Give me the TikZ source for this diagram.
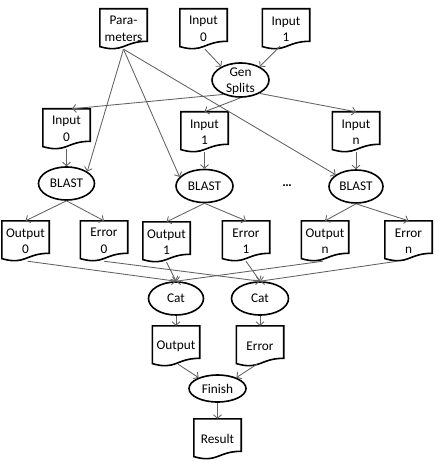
\documentclass[tikz,border=0pt]{standalone}
\usepackage{fontspec}
\setmainfont{Carlito}
\usetikzlibrary{shapes.geometric,arrows.meta}
\begin{document}
\begin{tikzpicture}[x=1pt,y=-1pt,
  lbl/.style={font=\fontsize{13.3}{16.5}\selectfont},
  doc/.style={rectangle, minimum width=47pt, minimum height=40pt, inner sep=0pt, align=center, lbl},
  proc/.style={ellipse, draw, line width=1.6pt, minimum width=56pt, minimum height=33pt, inner sep=0pt, lbl},
  conn/.style={draw=black!62, line width=0.85pt, -{Straight Barb[length=3.5pt,width=8pt]}},
  docline/.style={line width=1.6pt, line join=miter}]
\useasboundingbox (0,0) rectangle (437,462);
% documents
\node[doc] (par) at (123.5,29) {Para-\\meters};
\node[doc] (inA) at (203.5,29) {Input\\0};
\node[doc] (inB) at (286,29) {Input\\1};
\node[doc] (i0) at (66.5,129) {Input\\0};
\node[doc] (i1) at (204.5,132) {Input\\1};
\node[doc] (in) at (356,132) {Input\\n};
\node[doc] (o0) at (25.5,241) {Output\\0};
\node[doc] (e0) at (104,241) {Error\\0};
\node[doc] (o1) at (166.5,242) {Output\\1};
\node[doc] (e1) at (246,241) {Error\\1};
\node[doc] (on) at (325,241) {Output\\n};
\node[doc] (en) at (408.5,241) {Error\\n};
\node[doc] (out) at (176,346) {Output};
\node[doc] (err) at (260,346) {Error};
\node[doc] (res) at (217.5,439) {Result};
\foreach \n in {par,inA,inB,i0,i1,in,o0,e0,o1,e1,on,en,out,err,res}{
  \draw[docline] ([yshift=2.6pt]\n.south west) -- (\n.north west) -- (\n.north east)
    -- ([yshift=7.9pt]\n.south east) .. controls ([yshift=7.9pt]\n.south) and ([yshift=-4.3pt]\n.south) .. cycle;
}
% processes
\node[proc, minimum width=57pt, minimum height=34pt,
  label={[align=center, lbl, inner sep=0pt, yshift=-1.5pt]center:Gen\\Splits}] (gen) at (240.5,80) {};
\node[proc] (b0) at (66.5,183.5) {BLAST};
\node[proc, minimum width=57pt] (b1) at (204.5,186) {BLAST};
\node[proc, minimum width=54pt] (bn) at (356,186.5) {BLAST};
\node[lbl] (dots) at (287,186) {\textbf{\ldots}};
\node[proc, minimum width=55pt] (c0) at (176,298.5) {Cat};
\node[proc, minimum width=57pt] (c1) at (260,298.5) {Cat};
\node[proc, minimum width=57pt, minimum height=27pt] (fin) at (217.5,388.5) {Finish};
% connectors
\draw[conn] (par.south) -- (b0.30);
\draw[conn] (par.south) -- (b1.160);
\draw[conn] (par.south) -- (bn.150);
\draw[conn] ([xshift=1.5pt]inA.south) -- (gen.145);
\draw[conn] ([xshift=-6pt,yshift=3pt]inB.south) -- (gen.35);
\draw[conn] (gen.-140) -- ([xshift=5.5pt]i0.north);
\draw[conn] (gen.south) -- (i1.north);
\draw[conn] (gen.-35) -- (in.north);
\draw[conn] (i0.south) -- (b0.north);
\draw[conn] (i1.south) -- (b1.north);
\draw[conn] (in.south) -- (bn.north);
\draw[conn] (b0.south) -- (o0.north);
\draw[conn] (b0.south) -- (e0.north);
\draw[conn] (b1.south) -- (o1.north);
\draw[conn] (b1.south) -- (e1.north);
\draw[conn] (bn.south) -- (on.north);
\draw[conn] (bn.south) -- (en.north);
\draw[conn] ([xshift=2pt]o0.south) -- (c0.north);
\draw[conn] (o1.south) -- (c0.north);
\draw[conn] ([xshift=-2pt]on.south) -- (c0.north);
\draw[conn] (e0.south) -- (c1.north);
\draw[conn] (e1.south) -- (c1.north);
\draw[conn] ([xshift=-11pt]en.south) -- (c1.north);
\draw[conn] (c0.south) -- (out.north);
\draw[conn] (c1.south) -- (err.north);
\draw[conn] ([xshift=2pt,yshift=2pt]out.south) -- (fin.150);
\draw[conn] ([xshift=-3pt,yshift=2pt]err.south) -- (fin.30);
\draw[conn] (fin.south) -- (res.north);
\end{tikzpicture}
\end{document}
